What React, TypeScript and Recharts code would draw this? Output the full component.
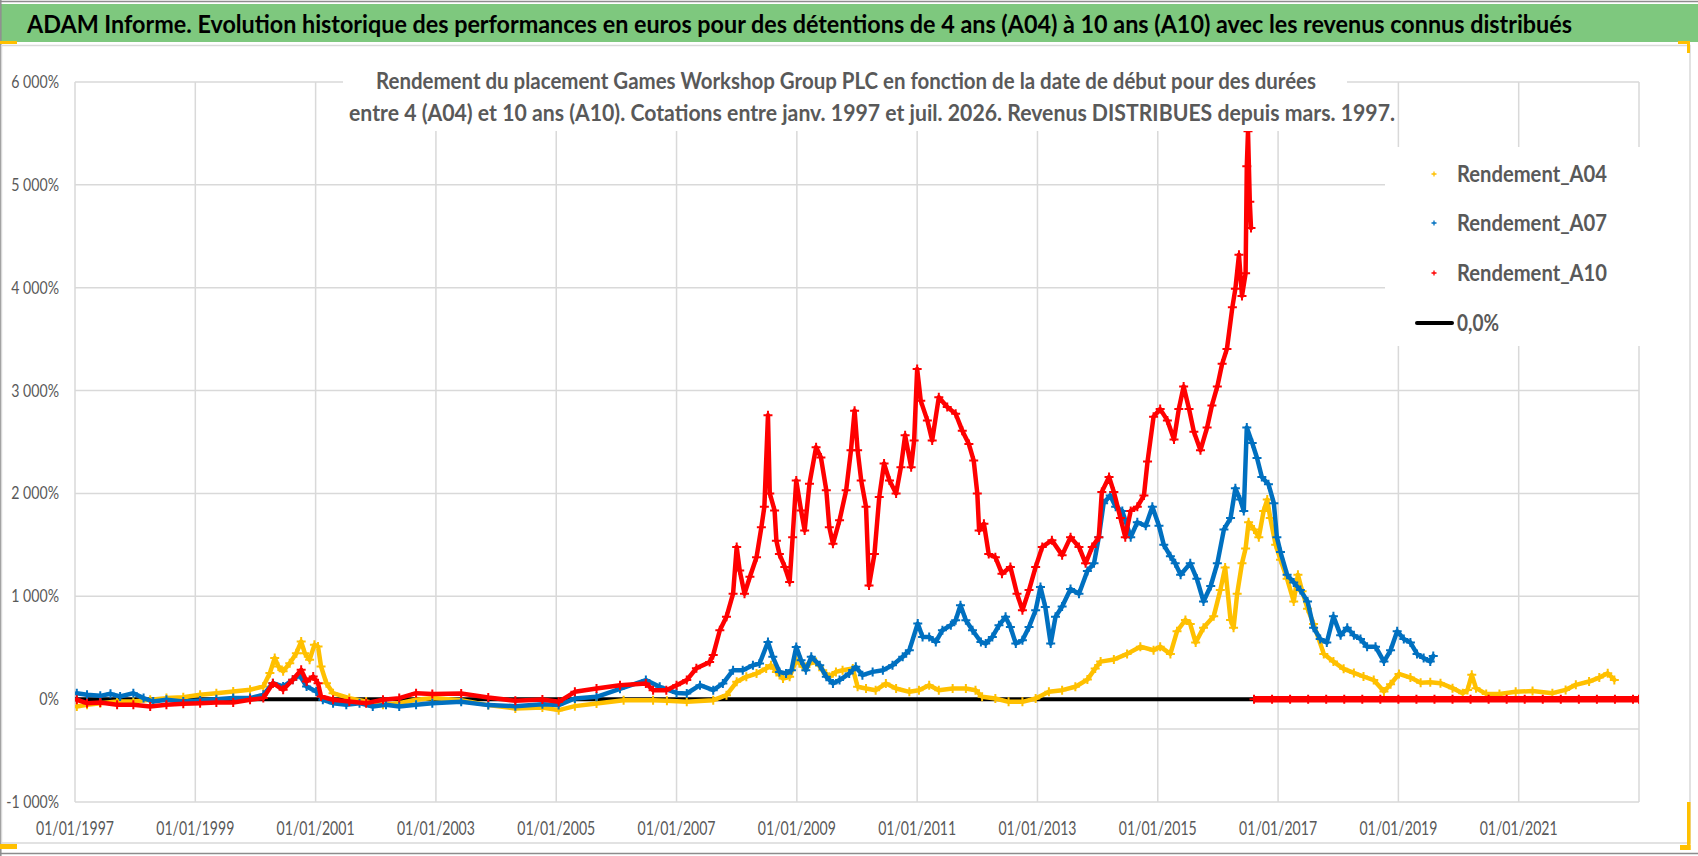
import { useEffect } from 'react';
import { ScatterChart, Scatter, XAxis, YAxis, CartesianGrid, ReferenceLine } from 'recharts';

type Pt = [number, number];

const YEAR_TICKS = [1997, 1999, 2001, 2003, 2005, 2007, 2009, 2011, 2013, 2015, 2017, 2019, 2021];
const PCT_TICKS = [-1000, 0, 1000, 2000, 3000, 4000, 5000, 6000];
const AXIS_CROSS = -290;

// [année, rendement %]
const A04: Pt[] = [
  [1997.03, -71], [1997.2, -55], [1997.42, -39], [1997.7, -23], [1997.97, -23], [1998.25, -6], [1998.52, 10],
  [1998.8, 19], [1999.08, 42], [1999.35, 58], [1999.63, 75], [1999.91, 91], [2000.13, 123], [2000.24, 253],
  [2000.32, 400], [2000.38, 318], [2000.46, 270], [2000.57, 350], [2000.68, 447], [2000.76, 560], [2000.82, 447],
  [2000.9, 382], [2000.98, 528], [2001.04, 512], [2001.09, 318], [2001.18, 155], [2001.29, 58], [2001.56, 10],
  [2001.84, -23], [2002.12, -55], [2002.39, -39], [2002.67, -6], [2002.94, 10], [2003.42, -10], [2003.87, -58],
  [2004.32, -91], [2004.77, -81], [2005.04, -107], [2005.31, -68], [2005.67, -42], [2006.12, -10], [2006.61, -10],
  [2006.84, -16], [2007.17, -26], [2007.61, -10], [2007.83, 39], [2008.0, 168], [2008.16, 217], [2008.33, 249],
  [2008.49, 298], [2008.57, 330], [2008.66, 265], [2008.77, 200], [2008.88, 217], [2008.99, 379], [2009.1, 314],
  [2009.21, 346], [2009.32, 362], [2009.43, 281], [2009.54, 217], [2009.65, 265], [2009.76, 281], [2009.93, 298],
  [2010.01, 120], [2010.15, 104], [2010.31, 87], [2010.48, 152], [2010.65, 104], [2010.87, 71], [2011.03, 87],
  [2011.2, 136], [2011.36, 87], [2011.59, 104], [2011.81, 104], [2011.97, 87], [2012.08, 23], [2012.3, 6],
  [2012.52, -26], [2012.75, -26], [2012.97, 6], [2013.19, 71], [2013.41, 87], [2013.63, 120], [2013.83, 190],
  [2013.96, 298], [2014.05, 365], [2014.27, 385], [2014.49, 440], [2014.71, 510], [2014.93, 475], [2015.04, 510],
  [2015.21, 440], [2015.32, 660], [2015.46, 770], [2015.54, 730], [2015.63, 550], [2015.76, 695], [2015.93, 805],
  [2016.04, 1060], [2016.12, 1280], [2016.21, 770], [2016.26, 695], [2016.32, 1025], [2016.4, 1320], [2016.46, 1465],
  [2016.51, 1720], [2016.6, 1650], [2016.68, 1575], [2016.76, 1830], [2016.82, 1940], [2016.87, 1760], [2016.96, 1500],
  [2017.04, 1355], [2017.15, 1170], [2017.26, 950], [2017.33, 1210], [2017.4, 1050], [2017.49, 880], [2017.59, 730],
  [2017.76, 440], [2017.92, 365], [2018.09, 295], [2018.26, 255], [2018.42, 220], [2018.59, 185], [2018.76, 75],
  [2018.87, 145], [2019.01, 245], [2019.2, 210], [2019.37, 160], [2019.53, 165], [2019.7, 155], [2019.9, 107],
  [2020.07, 58], [2020.15, 90], [2020.22, 236], [2020.29, 107], [2020.46, 51], [2020.68, 51], [2020.95, 71],
  [2021.23, 80], [2021.56, 58], [2021.78, 90], [2021.95, 139], [2022.17, 171], [2022.34, 210], [2022.48, 252],
  [2022.59, 187],
];

const A07: Pt[] = [
  [1997.03, 58], [1997.2, 42], [1997.42, 32], [1997.59, 52], [1997.75, 26], [1997.97, 58], [1998.14, 10],
  [1998.3, -23], [1998.52, -6], [1998.8, -23], [1999.08, -13], [1999.35, 0], [1999.63, 10], [1999.91, 10],
  [2000.13, 42], [2000.29, 155], [2000.46, 123], [2000.62, 188], [2000.73, 236], [2000.85, 123], [2001.01, 75],
  [2001.12, -6], [2001.29, -39], [2001.51, -55], [2001.73, -39], [2001.95, -71], [2002.17, -55], [2002.39, -71],
  [2002.67, -55], [2002.94, -39], [2003.42, -26], [2003.87, -58], [2004.32, -68], [2004.77, -49], [2005.04, -58],
  [2005.31, 6], [2005.67, 23], [2006.06, 100], [2006.49, 185], [2006.72, 120], [2007.0, 60], [2007.17, 55],
  [2007.39, 136], [2007.61, 87], [2007.77, 152], [2007.94, 281], [2008.1, 281], [2008.27, 330], [2008.38, 346],
  [2008.52, 556], [2008.6, 411], [2008.71, 265], [2008.82, 249], [2008.91, 281], [2008.99, 508], [2009.07, 379],
  [2009.15, 281], [2009.24, 411], [2009.38, 330], [2009.49, 217], [2009.6, 152], [2009.71, 185], [2009.87, 249],
  [2009.98, 314], [2010.09, 233], [2010.26, 265], [2010.43, 281], [2010.59, 330], [2010.76, 411], [2010.87, 476],
  [2011.01, 735], [2011.09, 605], [2011.2, 605], [2011.31, 556], [2011.42, 670], [2011.56, 718], [2011.64, 767],
  [2011.72, 913], [2011.81, 767], [2011.92, 670], [2012.06, 556], [2012.14, 540], [2012.25, 605], [2012.36, 718],
  [2012.47, 800], [2012.55, 702], [2012.64, 540], [2012.75, 573], [2012.86, 702], [2012.97, 864], [2013.05, 1090],
  [2013.13, 896], [2013.22, 540], [2013.3, 800], [2013.41, 900], [2013.55, 1070], [2013.69, 1025], [2013.83, 1245],
  [2013.94, 1320], [2014.02, 1575], [2014.1, 1905], [2014.21, 1980], [2014.3, 1870], [2014.41, 1830], [2014.55, 1575],
  [2014.66, 1720], [2014.8, 1685], [2014.91, 1870], [2015.02, 1685], [2015.1, 1500], [2015.21, 1390], [2015.29, 1320],
  [2015.38, 1210], [2015.54, 1320], [2015.65, 1170], [2015.76, 950], [2015.88, 1100], [2015.99, 1320], [2016.1, 1650],
  [2016.21, 1760], [2016.29, 2050], [2016.37, 1940], [2016.43, 1830], [2016.48, 2640], [2016.57, 2490], [2016.65, 2345],
  [2016.73, 2160], [2016.84, 2090], [2016.93, 1905], [2016.98, 1575], [2017.04, 1430], [2017.15, 1210], [2017.26, 1135],
  [2017.37, 1060], [2017.49, 950], [2017.59, 695], [2017.7, 585], [2017.81, 550], [2017.92, 805], [2018.04, 620],
  [2018.15, 695], [2018.26, 620], [2018.37, 585], [2018.48, 510], [2018.62, 510], [2018.76, 365], [2018.87, 475],
  [2018.98, 660], [2019.09, 585], [2019.2, 550], [2019.31, 440], [2019.42, 400], [2019.53, 365], [2019.58, 420],
];

const A10: Pt[] = [
  [1997.03, -6], [1997.2, -39], [1997.42, -32], [1997.7, -55], [1997.97, -55], [1998.25, -71], [1998.52, -55],
  [1998.8, -45], [1999.08, -39], [1999.35, -32], [1999.63, -32], [1999.91, -6], [2000.13, 10], [2000.29, 155],
  [2000.46, 91], [2000.62, 188], [2000.76, 285], [2000.85, 172], [2000.96, 220], [2001.04, 155], [2001.09, 26],
  [2001.29, -6], [2001.56, -23], [2001.84, -39], [2002.12, -6], [2002.39, 10], [2002.67, 58], [2002.94, 50],
  [2003.42, 55], [2003.87, 16], [2004.32, -16], [2004.77, -3], [2005.04, -26], [2005.31, 71], [2005.67, 104],
  [2006.06, 136], [2006.49, 153], [2006.61, 87], [2006.83, 87], [2007.0, 136], [2007.17, 185], [2007.33, 300],
  [2007.55, 360], [2007.61, 430], [2007.72, 670], [2007.83, 800], [2007.94, 1025], [2008.0, 1480], [2008.05, 1250],
  [2008.13, 1025], [2008.22, 1190], [2008.33, 1380], [2008.41, 1670], [2008.46, 1870], [2008.52, 2760], [2008.55, 2000],
  [2008.63, 1835], [2008.66, 1540], [2008.71, 1410], [2008.8, 1285], [2008.88, 1140], [2008.93, 1575], [2008.99, 2125],
  [2009.07, 1835], [2009.13, 1640], [2009.21, 2095], [2009.32, 2450], [2009.4, 2350], [2009.49, 2030], [2009.54, 1670],
  [2009.6, 1510], [2009.71, 1740], [2009.82, 2030], [2009.9, 2420], [2009.96, 2805], [2010.01, 2420], [2010.07, 2125],
  [2010.15, 1870], [2010.2, 1105], [2010.29, 1410], [2010.37, 1965], [2010.45, 2290], [2010.54, 2125], [2010.65, 2000],
  [2010.73, 2255], [2010.8, 2565], [2010.9, 2255], [2010.95, 2515], [2011.0, 3210], [2011.06, 2900], [2011.17, 2710],
  [2011.25, 2515], [2011.36, 2935], [2011.5, 2840], [2011.64, 2775], [2011.75, 2610], [2011.86, 2480], [2011.94, 2320],
  [2012.0, 2000], [2012.03, 1640], [2012.11, 1705], [2012.19, 1410], [2012.3, 1380], [2012.41, 1220], [2012.55, 1285],
  [2012.66, 1025], [2012.75, 865], [2012.86, 1060], [2012.97, 1285], [2013.08, 1480], [2013.24, 1545], [2013.41, 1400],
  [2013.55, 1575], [2013.69, 1480], [2013.8, 1320], [2013.91, 1480], [2014.02, 1575], [2014.07, 2015], [2014.19, 2160],
  [2014.27, 2015], [2014.38, 1760], [2014.46, 1575], [2014.55, 1830], [2014.66, 1870], [2014.77, 1980], [2014.83, 2310],
  [2014.93, 2745], [2015.04, 2820], [2015.16, 2710], [2015.27, 2525], [2015.35, 2820], [2015.43, 3040], [2015.52, 2820],
  [2015.6, 2600], [2015.71, 2420], [2015.82, 2640], [2015.9, 2855], [2015.99, 3040], [2016.07, 3260], [2016.15, 3405],
  [2016.24, 3810], [2016.29, 3990], [2016.35, 4320], [2016.4, 3920], [2016.46, 4140], [2016.48, 5180], [2016.5, 5520],
  [2016.53, 4835], [2016.55, 4580],
];

const A10_ZERO: Pt[] = [
  [2016.6, 0], [2016.9, 0], [2017.2, 0], [2017.5, 0], [2017.8, 0], [2018.1, 0], [2018.4, 0], [2018.7, 0],
  [2019.0, 0], [2019.3, 0], [2019.6, 0], [2019.9, 0], [2020.2, 0], [2020.5, 0], [2020.8, 0], [2021.1, 0],
  [2021.4, 0], [2021.7, 0], [2022.0, 0], [2022.3, 0], [2022.6, 0], [2022.9, 0], [2023.0, 0],
];

const ZERO_LINE: Pt[] = [[1997, 0], [2023, 0]];

const SERIES_NAMES = ['Rendement_A04', 'Rendement_A07', 'Rendement_A10', '0,0%'];
const YELLOW = '#FFC000';
const BLUE = '#0070C0';
const RED = '#FF0000';
const GREY_TEXT = '#595959';
const GRID = '#d9d9d9';
const FONT = 'Lato, "Open Sans", sans-serif';

const toXY = (pts: Pt[]) => pts.map(([x, y]) => ({ x, y }));

function plusShape(color: string, half: number, sw: number) {
  return (props: any) => {
    const { cx, cy } = props;
    if (cx == null || cy == null) return <g />;
    return (
      <path
        d={`M${cx - half},${cy}H${cx + half}M${cx},${cy - half}V${cy + half}`}
        stroke={color}
        strokeWidth={sw}
        fill="none"
      />
    );
  };
}

function fmtPct(v: number): string {
  const s = Math.abs(v).toString().replace(/\B(?=(\d{3})+(?!\d))/g, ' ');
  return (v < 0 ? '-' : '') + s + '%';
}

function pctWidth(label: string): number {
  let w = 0;
  for (const ch of label) w += ch === '%' ? 11.7 : ch === ' ' ? 3.6 : ch === '-' ? 5 : 8.1;
  return w;
}

function YTick({ y, payload }: any) {
  const label = fmtPct(payload.value);
  return (
    <text x={59} y={y + 6} textAnchor="end" fontSize={17} fontFamily={FONT} fill={GREY_TEXT}
      textLength={pctWidth(label)} lengthAdjust="spacingAndGlyphs">
      {label}
    </text>
  );
}

function XTick({ x, payload }: any) {
  return (
    <text x={x} y={835} textAnchor="middle" fontSize={18.5} fontFamily={FONT} fill={GREY_TEXT}
      textLength={78} lengthAdjust="spacingAndGlyphs">
      {`01/01/${payload.value}`}
    </text>
  );
}

const LEGEND_ROWS = [
  { name: SERIES_NAMES[0], color: YELLOW, cy: 174, w: 150 },
  { name: SERIES_NAMES[1], color: BLUE, cy: 223, w: 150 },
  { name: SERIES_NAMES[2], color: RED, cy: 273, w: 150 },
  { name: SERIES_NAMES[3], color: '#000', cy: 323, w: 42 },
];

export default function App() {
  useEffect(() => {
    document.body.style.margin = '0';
  }, []);

  const band = { strokeWidth: 4.5, strokeLinejoin: 'round' as const, strokeLinecap: 'round' as const };

  return (
    <div style={{ position: 'relative', width: 1698, height: 856, background: '#fff', overflow: 'hidden' }}>
      <svg width={1698} height={856} style={{ position: 'absolute', left: 0, top: 0 }}>
        <rect x={0} y={0} width={1698} height={856} fill="#fff" />
        <rect x={1} y={4} width={1697} height={38} fill="#7ec87e" />
        <line x1={0} y1={1.5} x2={1698} y2={1.5} stroke="#8c8c8c" strokeWidth={1.5} />
        <line x1={0.8} y1={0} x2={0.8} y2={856} stroke="#8c8c8c" strokeWidth={1.5} />
        <line x1={0} y1={853.5} x2={1698} y2={853.5} stroke="#8c8c8c" strokeWidth={1.5} />
        <rect x={1.5} y={45.5} width={1688.5} height={797.5} fill="none" stroke={GRID} strokeWidth={1.5} />
      </svg>

      <div style={{ position: 'absolute', left: 0, top: 0 }}>
        <ScatterChart width={1698} height={856} margin={{ top: 82, right: 59, bottom: 0, left: 0 }}>
          <CartesianGrid stroke={GRID} strokeWidth={1.5} />
          <XAxis
            type="number"
            dataKey="x"
            domain={[1997, 2023]}
            ticks={YEAR_TICKS}
            height={54}
            axisLine={false}
            tickLine={false}
            tick={<XTick />}
            allowDataOverflow
          />
          <YAxis
            type="number"
            dataKey="y"
            domain={[-1000, 6000]}
            ticks={PCT_TICKS}
            width={75}
            axisLine={false}
            tickLine={false}
            tick={<YTick />}
            allowDataOverflow
          />
          <ReferenceLine y={AXIS_CROSS} stroke={GRID} strokeWidth={1.5} />
          <Scatter
            name={SERIES_NAMES[3]}
            data={toXY(ZERO_LINE)}
            line={{ stroke: '#000', strokeWidth: 4 }}
            shape={() => <g />}
            isAnimationActive={false}
          />
          <Scatter
            name={SERIES_NAMES[0]}
            data={toXY(A04)}
            line={{ stroke: YELLOW, ...band }}
            shape={plusShape(YELLOW, 4.5, 2)}
            isAnimationActive={false}
          />
          <Scatter
            name={SERIES_NAMES[1]}
            data={toXY(A07)}
            line={{ stroke: BLUE, ...band }}
            shape={plusShape(BLUE, 4.5, 2)}
            isAnimationActive={false}
          />
          <Scatter
            name={SERIES_NAMES[2]}
            data={toXY(A10)}
            line={{ stroke: RED, ...band }}
            shape={plusShape(RED, 4.5, 2)}
            isAnimationActive={false}
          />
          <Scatter
            name={SERIES_NAMES[2]}
            data={toXY(A10_ZERO)}
            line={{ stroke: RED, strokeWidth: 6.5 }}
            shape={plusShape(RED, 4.5, 2)}
            isAnimationActive={false}
          />
        </ScatterChart>
      </div>

      <svg width={1698} height={856} style={{ position: 'absolute', left: 0, top: 0, pointerEvents: 'none' }}>
        <text x={27} y={32.5} fontSize={24} fontWeight={700} fontFamily={FONT} fill="#000"
          textLength={1545} lengthAdjust="spacingAndGlyphs">
          ADAM Informe. Evolution historique des performances en euros pour des détentions de 4 ans (A04) à 10 ans (A10) avec les revenus connus distribués
        </text>

        <rect x={343} y={56} width={1004} height={75} fill="#fff" />
        <text x={376} y={88.5} fontSize={23} fontWeight={700} fontFamily={FONT} fill={GREY_TEXT}
          textLength={940} lengthAdjust="spacingAndGlyphs">
          Rendement du placement Games Workshop Group PLC en fonction de la date de début pour des durées
        </text>
        <text x={349} y={120.5} fontSize={23} fontWeight={700} fontFamily={FONT} fill={GREY_TEXT}
          textLength={1046} lengthAdjust="spacingAndGlyphs">
          entre 4 (A04) et 10 ans (A10). Cotations entre janv. 1997 et juil. 2026. Revenus DISTRIBUES depuis mars. 1997.
        </text>

        <rect x={1385} y={147} width={303} height={199} fill="#fff" />
        {LEGEND_ROWS.map((r) => (
          <g key={r.name}>
            {r.name === '0,0%' ? (
              <line x1={1417} y1={r.cy} x2={1452} y2={r.cy} stroke="#000" strokeWidth={4} strokeLinecap="round" />
            ) : (
              <path d={`M${1431.5},${r.cy}H${1436.5}M${1434},${r.cy - 2.5}V${r.cy + 2.5}`} stroke={r.color} strokeWidth={1.3} />
            )}
            <text x={1457} y={r.cy + 8.3} fontSize={23} fontWeight={700} fontFamily={FONT} fill={GREY_TEXT}
              textLength={r.w} lengthAdjust="spacingAndGlyphs">
              {r.name}
            </text>
          </g>
        ))}

        <rect x={0} y={41} width={17} height={3} fill={YELLOW} />
        <rect x={0} y={844} width={17} height={5} fill={YELLOW} />
        <rect x={1678} y={41} width={12} height={3} fill={YELLOW} />
        <rect x={1687} y={41} width={3} height={12} fill={YELLOW} />
        <rect x={1687} y={802} width={3.5} height={48} fill={YELLOW} />
        <rect x={1680} y={845} width={10.5} height={5} fill={YELLOW} />
      </svg>
    </div>
  );
}
